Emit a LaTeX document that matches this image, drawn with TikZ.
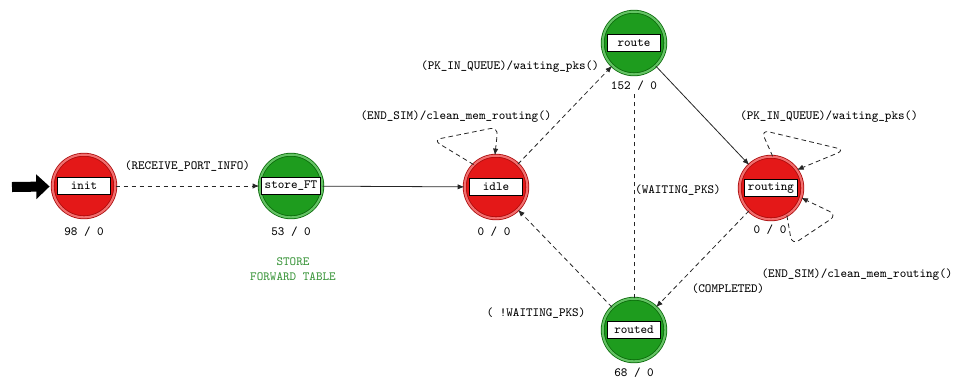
\documentclass[tikz,border=0pt]{standalone}
\usepackage{fontspec}
\usetikzlibrary{arrows.meta}
\definecolor{redfill}{RGB}{228,24,24}
\definecolor{redring}{RGB}{242,110,110}
\definecolor{reddark}{RGB}{170,10,10}
\definecolor{greenfill}{RGB}{30,156,30}
\definecolor{greenring}{RGB}{100,195,100}
\definecolor{greendark}{RGB}{10,105,10}
\definecolor{notegreen}{RGB}{60,150,60}
\tikzset{
  txt/.style={font=\ttfamily\fontsize{9.4}{11}\selectfont, text=black, inner sep=1pt},
  redstate/.style={circle, minimum size=47pt, inner sep=0pt, fill=redfill, draw=reddark, double=redring, double distance=1.6pt, line width=0.6pt},
  greenstate/.style={circle, minimum size=47pt, inner sep=0pt, fill=greenfill, draw=greendark, double=greenring, double distance=1.6pt, line width=0.6pt},
  namebox/.style={txt, rectangle, draw=black, line width=0.8pt, fill=white, minimum width=39.75pt, minimum height=12.75pt, inner xsep=2.2pt, inner ysep=0pt},
  edge/.style={line width=0.6pt, black!85, -{Latex[length=5pt,width=4pt]}},
  dedge/.style={edge, dash pattern=on 3.5pt off 2.5pt},
  loopedge/.style={dedge, rounded corners=6pt},
}
\begin{document}
\begin{tikzpicture}[x=0.75pt,y=-0.75pt]
\useasboundingbox (0,0) rectangle (955,380);
% states
\node[redstate]   (init)    at (84,186)  {};
\node[greenstate] (storeFT) at (291,186) {};
\node[redstate]   (idle)    at (496,187) {};
\node[greenstate] (route)   at (634,43)  {};
\node[redstate]   (routing) at (771,188) {};
\node[greenstate] (routed)  at (634,330) {};
% name boxes
\node[namebox] (initB)    at (init)    {init};
\node[namebox] (storeFTB) at (storeFT) {store\_FT};
\node[namebox] (idleB)    at (idle)    {idle};
\node[namebox] (routeB)   at (route)   {route};
\node[namebox] (routingB) at (routing) {routing};
\node[namebox] (routedB)  at (routed)  {routed};
% counters
\node[txt] (initC)    at (84,232)  {98 / 0};
\node[txt] (storeFTC) at (291,232) {53 / 0};
\node[txt] (idleC)    at (494,232) {0 / 0};
\node[txt] (routeC)   at (634,86)  {152 / 0};
\node[txt] (routingC) at (770,230) {0 / 0};
\node[txt] (routedC)  at (634,373) {68 / 0};
% note
\node[txt, text=notegreen, align=center, font=\ttfamily\fontsize{9.4}{11.5}\selectfont] (note) at (293,269) {STORE\\FORWARD TABLE};
% initial arrow
\coordinate (start) at (12,187);
\draw[line width=7.5pt, -{Triangle[length=10pt,width=18pt]}, shorten >=2pt] (start) -- (init);
% transitions
\draw[dedge] (init) -- node[txt, above=10pt] (lRPI) {(RECEIVE\_PORT\_INFO)} (storeFT);
\draw[edge] (storeFT) -- (idle);
\draw[dedge] (idle) -- (route);
\node[txt] (lPK1) at (510,67) {(PK\_IN\_QUEUE)/waiting\_pks()};
\draw[loopedge] (idle.135) -- (433,140) -- (498,127) -- (idle.92);
\node[txt] (lES1) at (456,117) {(END\_SIM)/clean\_mem\_routing()};
\draw[edge] (route) -- (routing);
\draw[line width=0.6pt, black!85, dash pattern=on 3.5pt off 2.5pt] (routed) -- (routeC);
\node[txt] (lWP) at (678,190) {(WAITING\_PKS)};
\draw[dedge] (routing) -- (routed);
\node[txt] (lCOMP) at (728,289) {(COMPLETED)};
\draw[dedge] (routed) -- (idle);
\node[txt] (lNWP) at (536,313) {( !WAITING\_PKS)};
\draw[loopedge] (routing.87) -- (761,130) -- (845,150) -- (routing.35);
\node[txt] (lPK2) at (829,117) {(PK\_IN\_QUEUE)/waiting\_pks()};
\draw[loopedge] (routing.-60) -- (792,245) -- (837,215) -- (routing.-18);
\node[txt] (lES2) at (857,275) {(END\_SIM)/clean\_mem\_routing()};
\end{tikzpicture}
\end{document}
